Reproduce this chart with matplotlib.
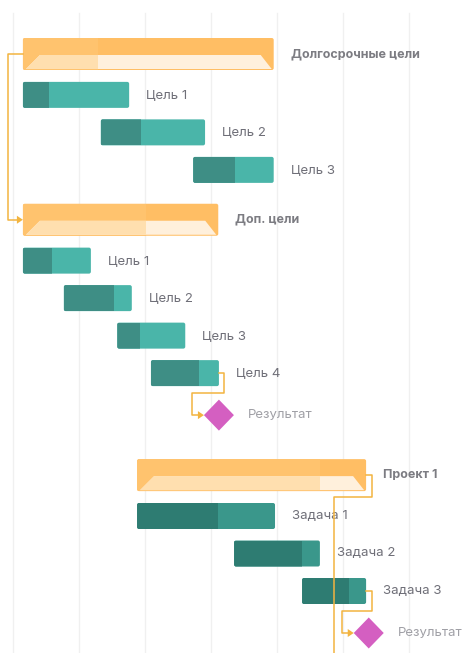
import numpy as np
import matplotlib
matplotlib.use("Agg")
import matplotlib.pyplot as plt
from matplotlib.patches import Rectangle, Polygon, FancyBboxPatch

plt.rcParams['font.family'] = ['Inter', 'DejaVu Sans']

# ---- data (x in grid units, one grid column = 1) ----
names = ["Долгосрочные цели", "Цель 1", "Цель 2", "Цель 3",
         "Доп. цели", "Цель 1", "Цель 2", "Цель 3", "Цель 4", "Результат",
         "Проект 1", "Задача 1", "Задача 2", "Задача 3", "Результат"]
kinds = ["summary", "task", "task", "task",
         "summary", "task", "task", "task", "task", "milestone",
         "summary", "task2", "task2", "task2", "milestone"]
starts = [0.15, 0.15, 1.33, 2.73,
          0.15, 0.15, 0.77, 1.58, 2.09, 3.12,
          1.88, 1.88, 3.35, 4.38, 5.39]
ends = [3.95, 1.76, 2.91, 3.95,
        3.11, 1.18, 1.80, 2.61, 3.12, 3.12,
        5.35, 3.97, 4.65, 5.35, 5.39]
progress = [0.30, 0.25, 0.39, 0.52,
            0.63, 0.43, 0.74, 0.34, 0.71, 0.0,
            0.80, 0.59, 0.79, 0.73, 0.0]
# links: (from, to, type) ; to=None -> continues below the view
links = [(0, 4, "ss"), (8, 9, "fs"), (10, None, "fs"), (13, 14, "fs")]

# ---- layout ----
PX_X = 66.0    # pixels per grid unit
PX_Y = 37.5    # pixels per row unit
W, H = 466, 653
X0_PX, Y0_PX = 13, 54

ys = [0.0]
for i in range(1, len(kinds)):
    gap = 1.0
    if kinds[i - 1] == "summary":
        gap += 0.09
    if kinds[i] == "summary":
        gap += 0.33
        if kinds[i - 1] == "milestone":
            gap += 0.27
    if kinds[i] == "milestone":
        gap += 0.12
    ys.append(ys[-1] + gap)

fig = plt.figure(figsize=(W / 100, H / 100), dpi=100)
ax = fig.add_axes([0, 0, 1, 1])
ax.set_xlim(-X0_PX / PX_X, (W - X0_PX) / PX_X)
ax.set_ylim((H - Y0_PX) / PX_Y, -Y0_PX / PX_Y)
ax.axis('off')

px = lambda p: p / PX_X
py = lambda p: p / PX_Y

# grid columns
for g in range(0, 7):
    ax.plot([g, g], [py(13 - Y0_PX), (H - Y0_PX) / PX_Y], color='#f0f0f0', lw=1, zorder=0)

task_cols = {"task": ("#3e8e85", "#4ab5a9"), "task2": ("#2e7c72", "#3a978b")}
TASK_H = py(26)
SUM_H = py(32)
LINE_C = '#f2b440'
rnd = dict(boxstyle="round,pad=0,rounding_size=0.03", mutation_aspect=PX_X / PX_Y)

for i, (nm, kd) in enumerate(zip(names, kinds)):
    y, s, e, p = ys[i], starts[i], ends[i], progress[i]
    if kd in task_cols:
        dark, light = task_cols[kd]
        full = FancyBboxPatch((s, y - TASK_H / 2), e - s, TASK_H, fc=light, ec='none', zorder=2, **rnd)
        ax.add_patch(full)
        d = Rectangle((s, y - TASK_H / 2), (e - s) * p, TASK_H, fc=dark, ec='none', zorder=3)
        ax.add_patch(d)
        d.set_clip_path(full)
        ax.text(e + px(17), y, nm, ha='left', va='center', fontsize=9.5, color='#6f6f78', zorder=5)
    elif kd == "summary":
        m = s + (e - s) * p
        top, bot = y - SUM_H / 2, y + SUM_H / 2
        full = FancyBboxPatch((s, top), e - s, SUM_H, fc='#ffbe64', ec='none', zorder=2, **rnd)
        ax.add_patch(full)
        r = Rectangle((s, top), m - s, SUM_H, fc='#ffc36e', ec='none', zorder=2.5)
        ax.add_patch(r)
        r.set_clip_path(full)
        # lower inner trapezoid
        it, ib = y + py(1), bot - py(1)
        trap = [(s + px(3), ib), (s + px(17), it), (e - px(13), it), (e - px(2), ib)]
        tp = Polygon(trap, closed=True, fc='#fff0dc', ec='none', zorder=3)
        ax.add_patch(tp)
        pr = Rectangle((s, it), m - s, ib - it, fc='#ffdfaf', ec='none', zorder=3.5)
        ax.add_patch(pr)
        pr.set_clip_path(tp)
        ax.text(e + px(17), y, nm, ha='left', va='center', fontsize=9, fontweight='bold',
                color='#7c7c82', zorder=5)
    else:
        hw, hh = px(15), py(15.5)
        ax.add_patch(Polygon([(s - hw, y), (s, y - hh), (s + hw, y), (s, y + hh)],
                             closed=True, fc='#d45fc1', ec='none', zorder=4))
        ax.text(s + px(29), y, nm, ha='left', va='center', fontsize=9.5, color='#a0a0a6', zorder=5)


def arrow_to(x, y):
    a = px(6)
    b = py(4)
    ax.add_patch(Polygon([(x, y), (x - a, y - b), (x - a, y + b)], closed=True,
                         fc=LINE_C, ec='none', zorder=6))


def half_h(i):
    return SUM_H / 2 if kinds[i] == "summary" else (py(15.5) if kinds[i] == "milestone" else TASK_H / 2)


for src, dst, lt in links:
    y1 = ys[src]
    if lt == "ss":
        xs = starts[src]
        xv = xs - px(15)
        y2 = ys[dst]
        ax.plot([xs, xv, xv, starts[dst] - px(5)], [y1, y1, y2, y2], color=LINE_C, lw=1.1, zorder=6)
        arrow_to(starts[dst], y2)
        continue
    xe = ends[src]
    xr = xe + px(5.5)
    nxt = src + 1
    ymid = (y1 + half_h(src) + ys[nxt] - half_h(nxt)) / 2
    if dst is None:
        xv = xe - px(32)
        ax.plot([xe, xr, xr, xv, xv], [y1, y1, ymid, ymid, (H - Y0_PX) / PX_Y + 1],
                color=LINE_C, lw=1.1, zorder=6)
        continue
    y2 = ys[dst]
    xt = starts[dst] - (px(15) if kinds[dst] == "milestone" else 0)
    xv = xt - px(12)
    ax.plot([xe, xr, xr, xv, xv, xt - px(5)], [y1, y1, ymid, ymid, y2, y2],
            color=LINE_C, lw=1.1, zorder=6)
    arrow_to(xt, y2)

fig.savefig("out.png", dpi=100, facecolor='white')
